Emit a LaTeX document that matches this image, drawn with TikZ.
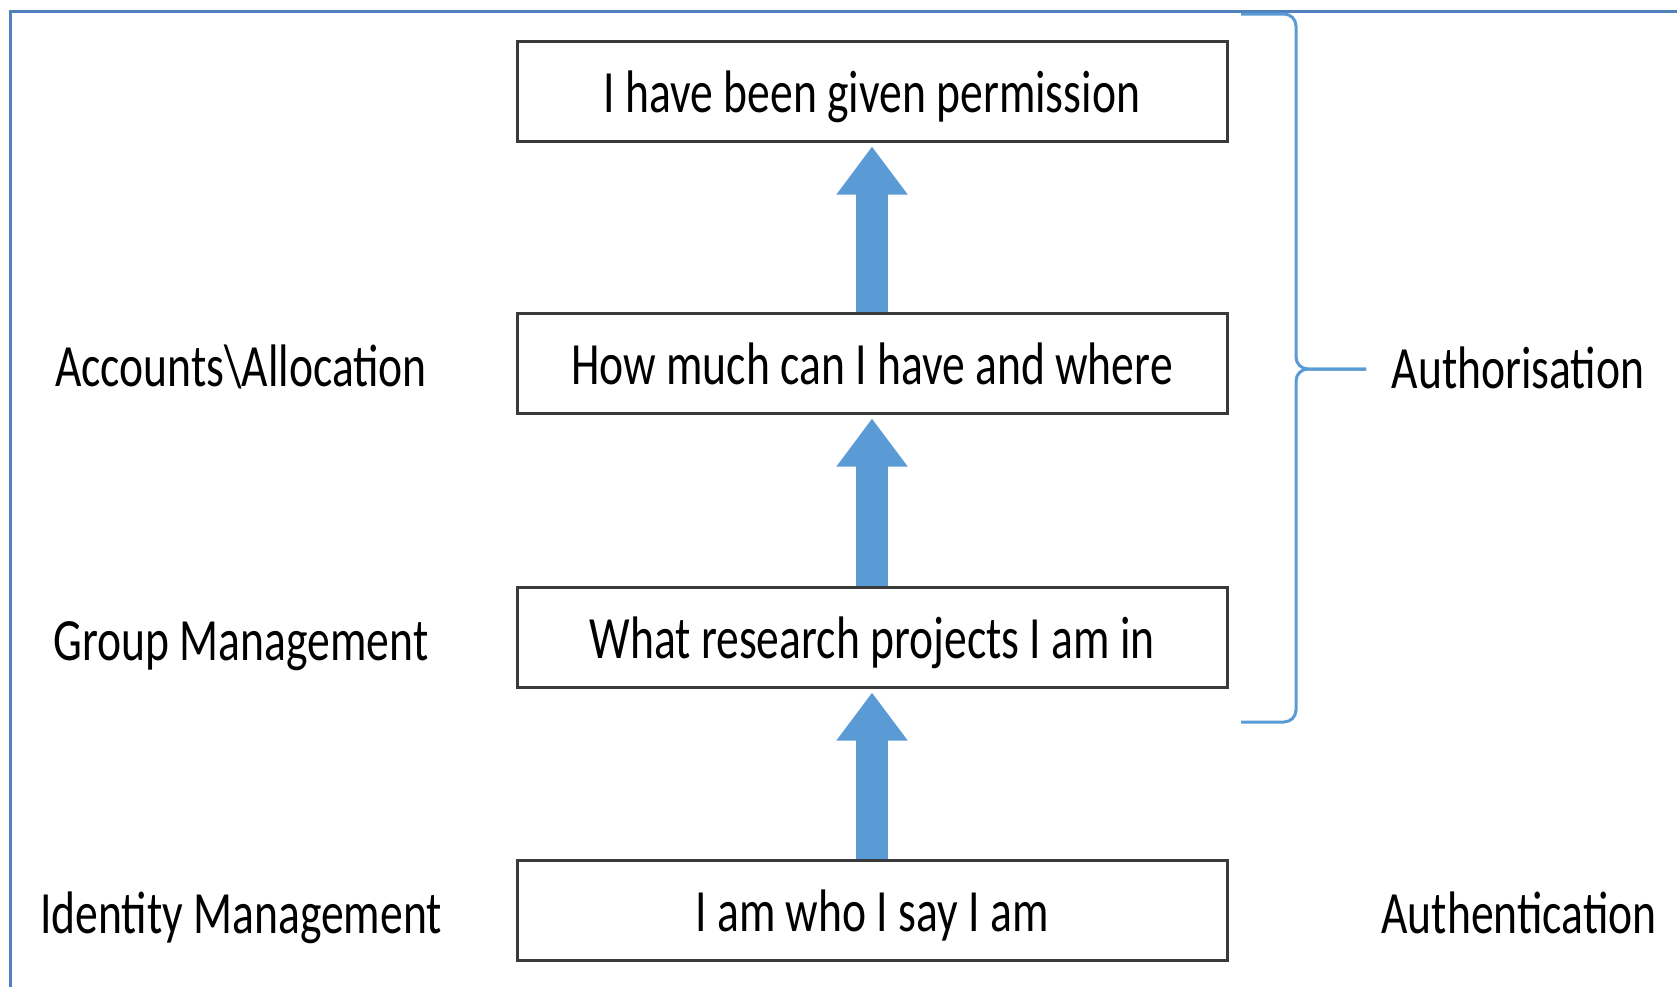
\documentclass[tikz,border=0pt]{standalone}
\usepackage{fontspec}
\setmainfont[FakeStretch=0.76]{Carlito}
\usetikzlibrary{arrows.meta,calc}
\definecolor{frameblue}{HTML}{4F81BD}
\definecolor{arrowblue}{HTML}{5B9BD5}
\definecolor{boxline}{HTML}{3A3A3A}
\begin{document}
\begin{tikzpicture}[x=1pt,y=-1pt,
  stepbox/.style={draw=boxline, line width=3pt, minimum width=710pt, minimum height=100pt,
    inner sep=0pt, fill=white, text height=42pt, text depth=0pt, font=\fontsize{60}{72}\selectfont},
  sidelabel/.style={inner sep=0pt, text height=42pt, text depth=0pt, font=\fontsize{60}{72}\selectfont},
  uparrow/.style={arrowblue, line width=32pt, -{Triangle[width=68pt,length=48pt]}},
  bracestyle/.style={arrowblue, line width=3pt, rounded corners=12pt},
  framestyle/.style={frameblue, line width=3pt}
]
\useasboundingbox (0,0) rectangle (1677,986);
\clip (0,0) rectangle (1677,986);
\fill[white] (0,0) rectangle (1677,986);
\draw[framestyle] (10,1000) -- (10,11) -- (1700,11);

\node[stepbox] (b1) at (872,91) {I have been given permission};
\node[stepbox] (b2) at (872,363) {How much can I have and where};
\node[stepbox] (b3) at (872,637) {What research projects I am in};
\node[stepbox] (b4) at (872,910) {I am who I say I am};

\draw[uparrow] (b4.north) -- ([yshift=-4pt]b3.south);
\draw[uparrow] (b3.north) -- ([yshift=-4pt]b2.south);
\draw[uparrow] (b2.north) -- ([yshift=-4pt]b1.south);

\node[sidelabel] (l2) at (241,365) {Accounts\textbackslash Allocation};
\node[sidelabel] (l3) at (241,639) {Group Management};
\node[sidelabel] (l4) at (241,912) {Identity Management};

\coordinate (tip) at (1366,369);
\draw[bracestyle] (1241,14) -- (1296,14) -- (1296,369) -- (tip);
\draw[bracestyle] (tip) -- (1296,369) -- (1296,722) -- (1241,722);

\node[sidelabel] (auz) at (1518,367) {Authorisation};
\node[sidelabel] (aun) at (1519,912) {Authentication};
\end{tikzpicture}
\end{document}
